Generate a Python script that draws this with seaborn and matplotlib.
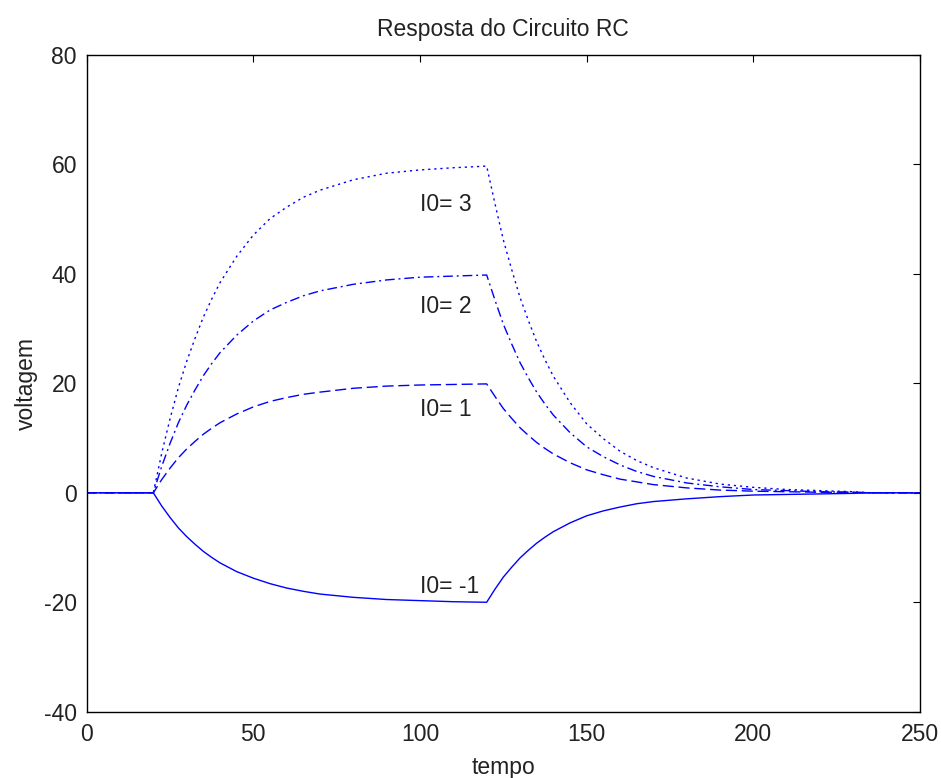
import numpy as np
import pandas as pd
import seaborn as sns
from matplotlib import pyplot as plt

# values (RC circuit response)
tempo = [0, 20, 22.5, 25, 27.5, 30, 32.5, 35, 37.5, 40, 45, 50, 55, 60, 65, 70,
         80, 90, 100, 110, 120, 122.5, 125, 127.5, 130, 132.5, 135, 137.5, 140,
         145, 150, 155, 160, 165, 170, 180, 190, 200, 210, 220, 230, 235, 250]

v_i3 = [0, 0, 7.2, 13.5, 19.2, 24.0, 28.2, 32.1, 35.4, 38.4, 43.2, 47.1, 50.1,
        52.2, 54.0, 55.3, 57.2, 58.4, 59.0, 59.4, 59.7, 52.8, 46.2, 40.8, 35.7,
        31.5, 27.6, 24.3, 21.3, 16.5, 12.6, 9.9, 7.6, 5.9, 4.6, 2.7, 1.6, 1.0,
        0.6, 0.4, 0.2, 0, 0]
v_i2 = [0, 0, 4.8, 9.0, 12.8, 16.0, 18.8, 21.4, 23.6, 25.6, 28.8, 31.4, 33.4,
        34.8, 36.0, 36.9, 38.1, 38.9, 39.4, 39.6, 39.8, 35.2, 30.8, 27.2, 23.8,
        21.0, 18.4, 16.2, 14.2, 11.0, 8.4, 6.6, 5.1, 3.9, 3.0, 1.8, 1.1, 0.6,
        0.4, 0.2, 0.1, 0, 0]
v_i1 = [0, 0, 2.4, 4.5, 6.4, 8.0, 9.4, 10.7, 11.8, 12.8, 14.4, 15.7, 16.7,
        17.4, 18.0, 18.4, 19.1, 19.5, 19.7, 19.8, 19.9, 17.6, 15.4, 13.6, 11.9,
        10.5, 9.2, 8.1, 7.1, 5.5, 4.2, 3.3, 2.5, 2.0, 1.5, 0.9, 0.5, 0.3, 0.2,
        0.1, 0.1, 0, 0]
v_im1 = [0, 0, -2.4, -4.5, -6.4, -8.0, -9.4, -10.7, -11.8, -12.8, -14.4, -15.6,
         -16.6, -17.4, -18.0, -18.5, -19.1, -19.5, -19.7, -19.9, -20.0, -17.6,
         -15.4, -13.6, -11.9, -10.5, -9.2, -8.1, -7.1, -5.5, -4.2, -3.3, -2.6,
         -2.0, -1.6, -1.1, -0.7, -0.4, -0.3, -0.2, -0.1, 0, 0]

rotulos = ['I0= 3', 'I0= 2', 'I0= 1', 'I0= -1']
rotulo_y = [52.7, 34, 15.3, -17.1]

sns.set_theme(style='white')
plt.rcParams['font.family'] = ['Liberation Sans', 'DejaVu Sans']
plt.rcParams['lines.scale_dashes'] = False
plt.rcParams['axes.unicode_minus'] = False

df = pd.concat([
    pd.DataFrame({'tempo': tempo, 'voltagem': v, 'I0': nome})
    for v, nome in zip([v_i3, v_i2, v_i1, v_im1], ['3', '2', '1', '-1'])
])

fig = plt.figure(figsize=(9.41, 7.78), dpi=100)
ax = fig.add_axes([0.0921, 0.0852, 0.8856, 0.8441])

estilos = {'3': (1.6, 2.8), '2': (7, 2.8, 1.4, 2.8), '1': (8, 3.4), '-1': ''}
sns.lineplot(data=df, x='tempo', y='voltagem', hue='I0', style='I0',
             dashes=estilos, palette=['#0000ff'] * 4, estimator=None,
             sort=False, linewidth=1.0, legend=False, ax=ax)

for txt, y in zip(rotulos, rotulo_y):
    ax.text(100, y, txt, ha='left', va='center', fontsize=16.5, color='#222222')

ax.set_xlim(0, 250)
ax.set_ylim(-40, 80)
ax.set_xticks([0, 50, 100, 150, 200, 250])
ax.set_yticks([-40, -20, 0, 20, 40, 60, 80])
ax.tick_params(direction='in', length=5, width=0.8, color='black',
               top=True, right=True, labelsize=16.5, labelcolor='#222222')
ax.tick_params(axis='x', pad=8)
ax.tick_params(axis='y', pad=7)
for s in ax.spines.values():
    s.set_color('black')
    s.set_linewidth(1.0)

ax.set_xlabel('tempo', fontsize=16.5, color='#222222', labelpad=7)
ax.set_ylabel('voltagem', fontsize=16.5, color='#222222', labelpad=4)
ax.set_title('Resposta do Circuito RC', fontsize=16.5, color='#222222', pad=14)

plt.savefig('out.png', dpi=100)
